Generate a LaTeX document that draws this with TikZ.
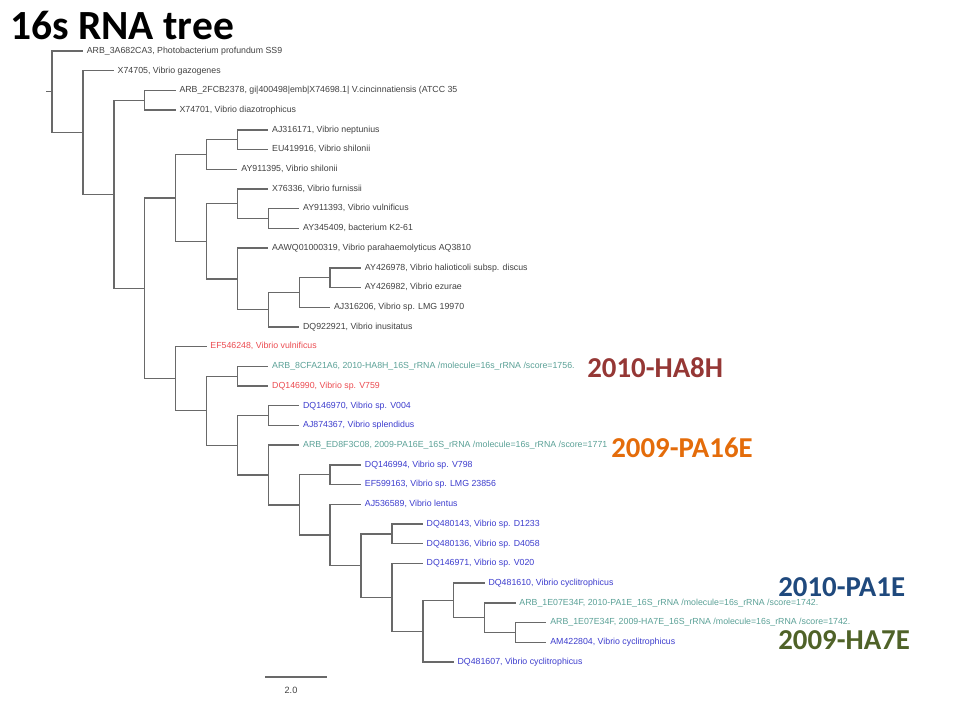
\documentclass[tikz,border=0pt]{standalone}
\usepackage{fontspec}
\setmainfont{Liberation Sans}
\newfontfamily\calib{Carlito}
\definecolor{treegray}{RGB}{105,105,105}
\definecolor{txtgray}{RGB}{65,65,65}
\definecolor{leafred}{RGB}{235,75,80}
\definecolor{leafteal}{RGB}{90,160,150}
\definecolor{leafblue}{RGB}{60,60,205}
\definecolor{lblred}{RGB}{149,55,53}
\definecolor{lblorange}{RGB}{228,108,10}
\definecolor{lblblue}{RGB}{31,73,125}
\definecolor{lblgreen}{RGB}{79,98,40}
\begin{document}
\begin{tikzpicture}[x=0.025cm,y=-0.025cm,
  br/.style={draw=treegray, line width=1pt},
  leaf/.style={anchor=west, inner xsep=2.6pt, inner ysep=0pt, text height=4.5pt, text depth=1.2pt,
    font=\fontsize{6.25}{7}\selectfont, text=txtgray},
  lred/.style={leaf, text=leafred},
  lteal/.style={leaf, text=leafteal},
  lblue/.style={leaf, text=leafblue},
  biglbl/.style={anchor=west, inner sep=0pt, font=\calib\bfseries\fontsize{20.5}{24}\selectfont}]
\useasboundingbox (0,0) rectangle (960,720);

% title
\node[anchor=base west, inner sep=0pt, font=\calib\bfseries\fontsize{29.5}{33}\selectfont] (title) at (10,40) {16s RNA tree};

% internal nodes
\coordinate (root) at (52,91.75);
\coordinate (rootstub) at (46,91.75);
\coordinate (nA) at (82.9,132.5);
\coordinate (nB) at (113.8,194.29);
\coordinate (nC) at (144.7,100.275);
\coordinate (nD) at (144.7,288.31);
\coordinate (nE) at (175.6,197.90);
\coordinate (nF) at (175.6,378.71);
\coordinate (nG) at (206.5,154.48);
\coordinate (nH) at (206.5,241.33);
\coordinate (nI) at (237.4,139.695);
\coordinate (nJ) at (237.4,203.75);
\coordinate (nK) at (237.4,278.90);
\coordinate (nL) at (268.3,218.535);
\coordinate (nM) at (268.3,309.69);
\coordinate (nN) at (299.2,292.45);
\coordinate (nO) at (330.1,277.665);
\coordinate (nQ) at (206.5,410.77);
\coordinate (nR) at (237.4,376.215);
\coordinate (nS) at (237.4,445.33);
\coordinate (nT) at (268.3,415.635);
\coordinate (nU) at (268.3,475.03);
\coordinate (nV) at (299.2,504.87);
\coordinate (nW) at (330.1,474.765);
\coordinate (nX) at (330.1,534.97);
\coordinate (nY) at (361,565.62);
\coordinate (nZ) at (391.9,533.895);
\coordinate (nAA) at (391.9,597.34);
\coordinate (nAB) at (422.8,631.21);
\coordinate (nAC) at (453.7,600.42);
\coordinate (nAD) at (484.6,617.66);
\coordinate (nAE) at (515.5,632.445);

% leaves
\node[leaf] (l1) at (82.9,51) {ARB\_3A682CA3, Photobacterium profundum SS9};
\node[leaf] (l2) at (113.8,70.71) {X74705, Vibrio gazogenes};
\node[leaf] (l3) at (175.6,90.42) {ARB\_2FCB2378, gi|400498|emb|X74698.1| V.cincinnatiensis (ATCC 35};
\node[leaf] (l4) at (175.6,110.13) {X74701, Vibrio diazotrophicus};
\node[leaf] (l5) at (268.3,129.84) {AJ316171, Vibrio neptunius};
\node[leaf] (l6) at (268.3,149.55) {EU419916, Vibrio shilonii};
\node[leaf] (l7) at (237.4,169.26) {AY911395, Vibrio shilonii};
\node[leaf] (l8) at (268.3,188.97) {X76336, Vibrio furnissii};
\node[leaf] (l9) at (299.2,208.68) {AY911393, Vibrio vulnificus};
\node[leaf] (l10) at (299.2,228.39) {AY345409, bacterium K2-61};
\node[leaf] (l11) at (268.3,248.10) {AAWQ01000319, Vibrio parahaemolyticus AQ3810};
\node[leaf] (l12) at (361,267.81) {AY426978, Vibrio halioticoli subsp. discus};
\node[leaf] (l13) at (361,287.52) {AY426982, Vibrio ezurae};
\node[leaf] (l14) at (330.1,307.23) {AJ316206, Vibrio sp. LMG 19970};
\node[leaf] (l15) at (299.2,326.94) {DQ922921, Vibrio inusitatus};
\node[lred] (l16) at (206.5,346.65) {EF546248, Vibrio vulnificus};
\node[lteal] (l17) at (268.3,366.36) {ARB\_8CFA21A6, 2010-HA8H\_16S\_rRNA /molecule=16s\_rRNA /score=1756.};
\node[lred] (l18) at (268.3,386.07) {DQ146990, Vibrio sp. V759};
\node[lblue] (l19) at (299.2,405.78) {DQ146970, Vibrio sp. V004};
\node[lblue] (l20) at (299.2,425.49) {AJ874367, Vibrio splendidus};
\node[lteal] (l21) at (299.2,445.20) {ARB\_ED8F3C08, 2009-PA16E\_16S\_rRNA /molecule=16s\_rRNA /score=1771};
\node[lblue] (l22) at (361,464.91) {DQ146994, Vibrio sp. V798};
\node[lblue] (l23) at (361,484.62) {EF599163, Vibrio sp. LMG 23856};
\node[lblue] (l24) at (361,504.33) {AJ536589, Vibrio lentus};
\node[lblue] (l25) at (422.8,524.04) {DQ480143, Vibrio sp. D1233};
\node[lblue] (l26) at (422.8,543.75) {DQ480136, Vibrio sp. D4058};
\node[lblue] (l27) at (422.8,563.46) {DQ146971, Vibrio sp. V020};
\node[lblue] (l28) at (484.6,583.17) {DQ481610, Vibrio cyclitrophicus};
\node[lteal] (l29) at (515.5,602.88) {ARB\_1E07E34F, 2010-PA1E\_16S\_rRNA /molecule=16s\_rRNA /score=1742.};
\node[lteal] (l30) at (546.4,622.59) {ARB\_1E07E34F, 2009-HA7E\_16S\_rRNA /molecule=16s\_rRNA /score=1742.};
\node[lblue] (l31) at (546.4,642.30) {AM422804, Vibrio cyclitrophicus};
\node[lblue] (l32) at (453.7,662.01) {DQ481607, Vibrio cyclitrophicus};

% branches
\draw[br] (rootstub) -- (root);
\draw[br] (root) |- (l1.west);  \draw[br] (root) |- (nA);
\draw[br] (nA) |- (l2.west);    \draw[br] (nA) |- (nB);
\draw[br] (nB) |- (nC);         \draw[br] (nB) |- (nD);
\draw[br] (nC) |- (l3.west);    \draw[br] (nC) |- (l4.west);
\draw[br] (nD) |- (nE);         \draw[br] (nD) |- (nF);
\draw[br] (nE) |- (nG);         \draw[br] (nE) |- (nH);
\draw[br] (nG) |- (nI);         \draw[br] (nG) |- (l7.west);
\draw[br] (nI) |- (l5.west);    \draw[br] (nI) |- (l6.west);
\draw[br] (nH) |- (nJ);         \draw[br] (nH) |- (nK);
\draw[br] (nJ) |- (l8.west);    \draw[br] (nJ) |- (nL);
\draw[br] (nL) |- (l9.west);    \draw[br] (nL) |- (l10.west);
\draw[br] (nK) |- (l11.west);   \draw[br] (nK) |- (nM);
\draw[br] (nM) |- (nN);         \draw[br] (nM) |- (l15.west);
\draw[br] (nN) |- (nO);         \draw[br] (nN) |- (l14.west);
\draw[br] (nO) |- (l12.west);   \draw[br] (nO) |- (l13.west);
\draw[br] (nF) |- (l16.west);   \draw[br] (nF) |- (nQ);
\draw[br] (nQ) |- (nR);         \draw[br] (nQ) |- (nS);
\draw[br] (nR) |- (l17.west);   \draw[br] (nR) |- (l18.west);
\draw[br] (nS) |- (nT);         \draw[br] (nS) |- (nU);
\draw[br] (nT) |- (l19.west);   \draw[br] (nT) |- (l20.west);
\draw[br] (nU) |- (l21.west);   \draw[br] (nU) |- (nV);
\draw[br] (nV) |- (nW);         \draw[br] (nV) |- (nX);
\draw[br] (nW) |- (l22.west);   \draw[br] (nW) |- (l23.west);
\draw[br] (nX) |- (l24.west);   \draw[br] (nX) |- (nY);
\draw[br] (nY) |- (nZ);         \draw[br] (nY) |- (nAA);
\draw[br] (nZ) |- (l25.west);   \draw[br] (nZ) |- (l26.west);
\draw[br] (nAA) |- (l27.west);  \draw[br] (nAA) |- (nAB);
\draw[br] (nAB) |- (nAC);       \draw[br] (nAB) |- (l32.west);
\draw[br] (nAC) |- (l28.west);  \draw[br] (nAC) |- (nAD);
\draw[br] (nAD) |- (l29.west);  \draw[br] (nAD) |- (nAE);
\draw[br] (nAE) |- (l30.west);  \draw[br] (nAE) |- (l31.west);

% scale bar
\coordinate (sb1) at (265,677);
\coordinate (sb2) at (327,677);
\draw[br] (sb1) -- (sb2);
\node[inner sep=0pt, font=\fontsize{6.5}{7}\selectfont, text=txtgray] (sblabel) at (291,690) {2.0};

% sample labels
\node[biglbl, text=lblred] (hA) at (587,368) {2010-HA8H};
\node[biglbl, text=lblorange] (hB) at (611,448) {2009-PA16E};
\node[biglbl, text=lblblue] (hC) at (778,587) {2010-PA1E};
\node[biglbl, text=lblgreen] (hD) at (778,640) {2009-HA7E};
\end{tikzpicture}
\end{document}
